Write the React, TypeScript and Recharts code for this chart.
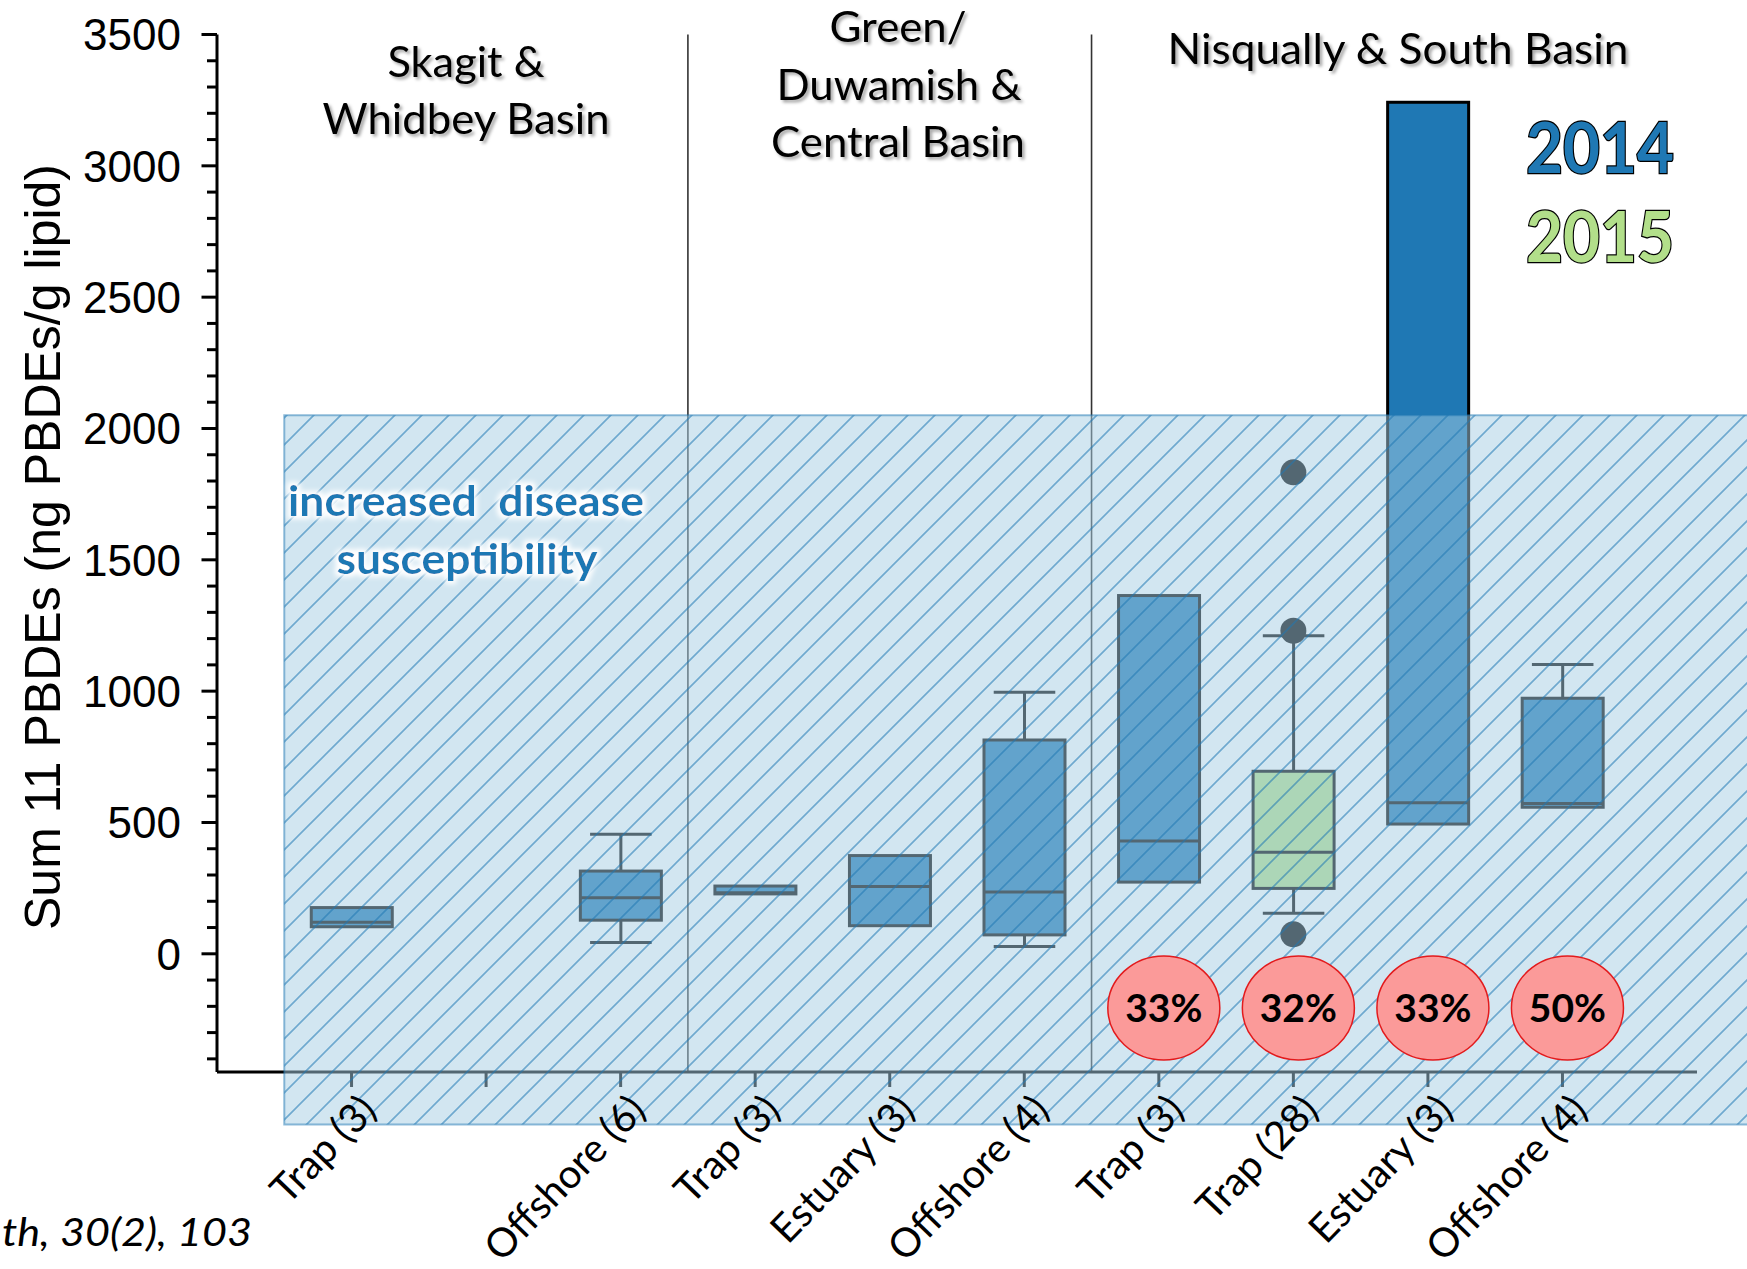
import React from "react";
import {
  ComposedChart,
  Bar,
  Scatter,
  XAxis,
  YAxis,
  ReferenceArea,
  ReferenceLine,
  ReferenceDot,
} from "recharts";

// sample groups along the x axis (the blank slot keeps the Skagit spacing)
const categories = [
  "Trap (3)",
  "",
  "Offshore (6)",
  "Trap (3)",
  "Estuary (3)",
  "Offshore (4)",
  "Trap (3)",
  "Trap (28)",
  "Estuary (3)",
  "Offshore (4)",
];
const sampleYear = [2014, null, 2014, 2014, 2014, 2014, 2014, 2015, 2014, 2014];

// box plot statistics, ng PBDEs/g lipid
const whiskerLow = [103, null, 43, 228, 107, 28, 273, 154, 494, 558];
const quartile1 = [103, null, 128, 228, 107, 72, 273, 249, 494, 558];
const medians = [120, null, 213, 232, 256, 235, 429, 387, 575, 572];
const quartile3 = [176, null, 315, 258, 374, 814, 1364, 695, 3242, 973];
const whiskerHigh = [176, null, 455, 258, 374, 996, 1364, 1211, 3242, 1101];

// outliers (2015 Nisqually trap fish)
const outlierPos = [8, 8, 8];
const outlierValues = [1833, 1230, 74];

// share of fish above the threshold, Nisqually & South Basin groups
const percentPos = [7, 8, 9, 10];
const percentLabels = ["33%", "32%", "33%", "50%"];
const badgeLevel = -206;

// shaded "increased disease susceptibility" band
const riskTop = 2050;
const riskBottom = -650;

const basinBreaks = [3.5, 6.5];
const majorTicks = [0, 500, 1000, 1500, 2000, 2500, 3000, 3500];
const valueTicks = Array.from({ length: 40 }, (_, i) => -400 + i * 100);

const yearColor: Record<number, string> = { 2014: "#1f78b4", 2015: "#b2df8a" };

const data = categories.map((label, i) => ({
  id: `g${i + 1}`,
  label,
  year: sampleYear[i],
  low: whiskerLow[i],
  q1: quartile1[i],
  median: medians[i],
  q3: quartile3[i],
  high: whiskerHigh[i],
  range: whiskerLow[i] == null ? null : [whiskerLow[i], whiskerHigh[i]],
}));

const outliers = outlierPos.map((pos, i) => ({ pos, v: outlierValues[i] }));
const labelOf: Record<string, string> = Object.fromEntries(data.map((d) => [d.id, d.label]));

const CALIBRI = "Lato, 'Open Sans', sans-serif";
const ARIAL = "'Liberation Sans', Arial, sans-serif";
const HATCH = 27;

function BoxShape(props: any) {
  const { x, y, width, height, payload } = props;
  if (!payload || payload.low == null) return null;
  const top = Math.min(y, y + height);
  const bottom = Math.max(y, y + height);
  const span = payload.high - payload.low;
  const toY = (v: number) => bottom - ((v - payload.low) / span) * (bottom - top);
  const cx = x + width / 2;
  const cap = width * 0.38;
  const yq1 = toY(payload.q1);
  const yq3 = toY(payload.q3);
  const ymed = toY(payload.median);
  return (
    <g stroke="#000" strokeWidth={3}>
      {payload.high > payload.q3 && (
        <>
          <line x1={cx} x2={cx} y1={top} y2={yq3} />
          <line x1={cx - cap} x2={cx + cap} y1={top} y2={top} />
        </>
      )}
      {payload.low < payload.q1 && (
        <>
          <line x1={cx} x2={cx} y1={yq1} y2={bottom} />
          <line x1={cx - cap} x2={cx + cap} y1={bottom} y2={bottom} />
        </>
      )}
      <rect x={x} y={yq3} width={width} height={yq1 - yq3} fill={yearColor[payload.year]} />
      <line x1={x} x2={x + width} y1={ymed} y2={ymed} />
    </g>
  );
}

function GroupTick({ x, y, payload }: any) {
  const label = labelOf[payload.value];
  if (!label) return null;
  const ax = x + 27;
  const ay = y + 25;
  return (
    <text
      x={ax}
      y={ay}
      textAnchor="end"
      transform={`rotate(-46 ${ax} ${ay})`}
      fontFamily={CALIBRI}
      fontSize={40}
      fill="#000"
    >
      {label}
    </text>
  );
}

function ValueTick({ x, y, payload }: any) {
  const major = majorTicks.includes(payload.value);
  const len = major ? 15.5 : 10;
  return (
    <g>
      <line x1={x} x2={x - len} y1={y} y2={y} stroke="#000" strokeWidth={3} />
      {major && (
        <text x={x - 36} y={y} dy="0.36em" textAnchor="end" fontFamily={ARIAL} fontSize={44} fill="#000">
          {payload.value}
        </text>
      )}
    </g>
  );
}

function PercentBadge({ cx, cy, label }: any) {
  return (
    <g>
      <ellipse cx={cx + 5} cy={cy} rx={56} ry={52} fill="#fb9a99" stroke="#e31a1c" strokeWidth={1.5} />
      <text x={cx + 5} y={cy + 14} textAnchor="middle" fontFamily={CALIBRI} fontWeight={700} fontSize={39} fill="#000">
        {label}
      </text>
    </g>
  );
}

function Title({ x, y, width, children }: any) {
  return (
    <text
      x={x}
      y={y}
      textAnchor="middle"
      fontFamily={CALIBRI}
      fontSize={43}
      fill="#000"
      textLength={width}
      lengthAdjust="spacingAndGlyphs"
      filter="url(#titleShadow)"
    >
      {children}
    </text>
  );
}

export default function App() {
  return (
    <div style={{ position: "absolute", left: 0, top: 0, width: 1747, height: 1269, background: "#fff" }}>
      <svg width={0} height={0} style={{ position: "absolute" }}>
        <defs>
          <pattern id="riskHatch" patternUnits="userSpaceOnUse" width={HATCH} height={HATCH}>
            <rect width={HATCH} height={HATCH} fill="#a6cee3" fillOpacity={0.5} />
            <path
              d={`M0,${HATCH} L${HATCH},0 M-3,3 L3,-3 M${HATCH - 3},${HATCH + 3} L${HATCH + 3},${HATCH - 3}`}
              stroke="#1f78b4"
              strokeOpacity={0.55}
              strokeWidth={1.7}
            />
          </pattern>
          <filter id="titleShadow" x="-10%" y="-30%" width="120%" height="160%">
            <feDropShadow dx={2.5} dy={2.5} stdDeviation={1.6} floodColor="#000" floodOpacity={0.35} />
          </filter>
          <filter id="whiteGlow" x="-10%" y="-40%" width="120%" height="180%">
            <feMorphology in="SourceAlpha" operator="dilate" radius={2.5} result="grown" />
            <feGaussianBlur in="grown" stdDeviation={2.5} result="soft" />
            <feFlood floodColor="#ffffff" />
            <feComposite in2="soft" operator="in" result="glow" />
            <feMerge>
              <feMergeNode in="glow" />
              <feMergeNode in="SourceGraphic" />
            </feMerge>
          </filter>
        </defs>
      </svg>

      <ComposedChart width={1747} height={1269} data={data} margin={{ top: 34.5, right: 50, bottom: 0, left: 0 }}>
        {basinBreaks.map((b) => (
          <ReferenceLine key={b} xAxisId="num" x={b} stroke="#333" strokeWidth={1.6} ifOverflow="visible" />
        ))}

        <XAxis
          dataKey="id"
          type="category"
          height={197}
          padding={{ left: 67.27, right: 67.27 }}
          axisLine={{ stroke: "#000", strokeWidth: 3 }}
          tickLine={{ stroke: "#000", strokeWidth: 3 }}
          tickSize={15}
          tickMargin={0}
          interval={0}
          tick={<GroupTick />}
        />
        <XAxis xAxisId="num" dataKey="pos" type="number" domain={[0, 11]} allowDataOverflow hide />
        <YAxis
          dataKey="v"
          type="number"
          width={217}
          domain={[-450, 3500]}
          allowDataOverflow
          ticks={valueTicks}
          interval={0}
          axisLine={{ stroke: "#000", strokeWidth: 3 }}
          tickLine={false}
          tickSize={0}
          tickMargin={0}
          tick={<ValueTick />}
        />

        <Bar dataKey="range" barSize={81} shape={<BoxShape />} isAnimationActive={false} />
        <Scatter
          xAxisId="num"
          data={outliers}
          dataKey="v"
          fill="#000"
          shape={(p: any) => <circle cx={p.cx} cy={p.cy} r={13} fill="#000" />}
          isAnimationActive={false}
        />

        <ReferenceArea
          xAxisId="num"
          x1={0.5}
          x2={11.4}
          y1={riskBottom}
          y2={riskTop}
          ifOverflow="visible"
          fill="url(#riskHatch)"
          fillOpacity={1}
          stroke="#1f78b4"
          strokeOpacity={0.5}
          strokeWidth={2}
          zIndex={1500}
        />

        {percentPos.map((p, i) => (
          <ReferenceDot
            key={`pct-${i}`}
            xAxisId="num"
            x={p}
            y={badgeLevel}
            r={1}
            ifOverflow="visible"
            zIndex={1600}
            shape={(s: any) => <PercentBadge cx={s.cx} cy={s.cy} label={percentLabels[i]} />}
          />
        ))}

        <g>
          <text
            x={42}
            y={547}
            dy="0.36em"
            textAnchor="middle"
            transform="rotate(-90 42 547)"
            fontFamily={ARIAL}
            fontSize={50}
            fill="#000"
          >
            Sum 11 PBDEs (ng PBDEs/g lipid)
          </text>

          <Title x={466} y={77} width={157}>Skagit &amp;</Title>
          <Title x={466} y={134} width={287}>Whidbey Basin</Title>
          <Title x={898} y={42} width={137}>Green/</Title>
          <Title x={899} y={100} width={245}>Duwamish &amp;</Title>
          <Title x={898} y={157} width={254}>Central Basin</Title>
          <Title x={1398} y={63.5} width={461}>Nisqually &amp; South Basin</Title>

          <text
            x={1600}
            y={172.7}
            textAnchor="middle"
            fontFamily={CALIBRI}
            fontWeight={700}
            fontSize={70}
            fill="#1f78b4"
            stroke="#000"
            strokeWidth={2.5}
            paintOrder="stroke"
            textLength={148}
            lengthAdjust="spacingAndGlyphs"
          >
            2014
          </text>
          <text
            x={1600}
            y={262}
            textAnchor="middle"
            fontFamily={CALIBRI}
            fontWeight={700}
            fontSize={70}
            fill="#b2df8a"
            stroke="#000"
            strokeWidth={2.5}
            paintOrder="stroke"
            textLength={148}
            lengthAdjust="spacingAndGlyphs"
          >
            2015
          </text>

          <text x={2} y={1246} fontFamily={CALIBRI} fontStyle="italic" fontSize={39} fill="#000" textLength={250} lengthAdjust="spacingAndGlyphs">
            th, 30(2), 103
          </text>
        </g>
      </ComposedChart>

      {/* band caption sits above the hatched band */}
      <svg width={1747} height={1269} style={{ position: "absolute", left: 0, top: 0, pointerEvents: "none" }}>
        <g filter="url(#whiteGlow)" fontFamily={CALIBRI} fontWeight={700} fontSize={42} fill="#1f78b4">
          <text x={466} y={516} textAnchor="middle" style={{ whiteSpace: "pre" }} textLength={356} lengthAdjust="spacingAndGlyphs">
            increased  disease
          </text>
          <text x={467} y={574} textAnchor="middle" textLength={261} lengthAdjust="spacingAndGlyphs">
            susceptibility
          </text>
        </g>
      </svg>
    </div>
  );
}
